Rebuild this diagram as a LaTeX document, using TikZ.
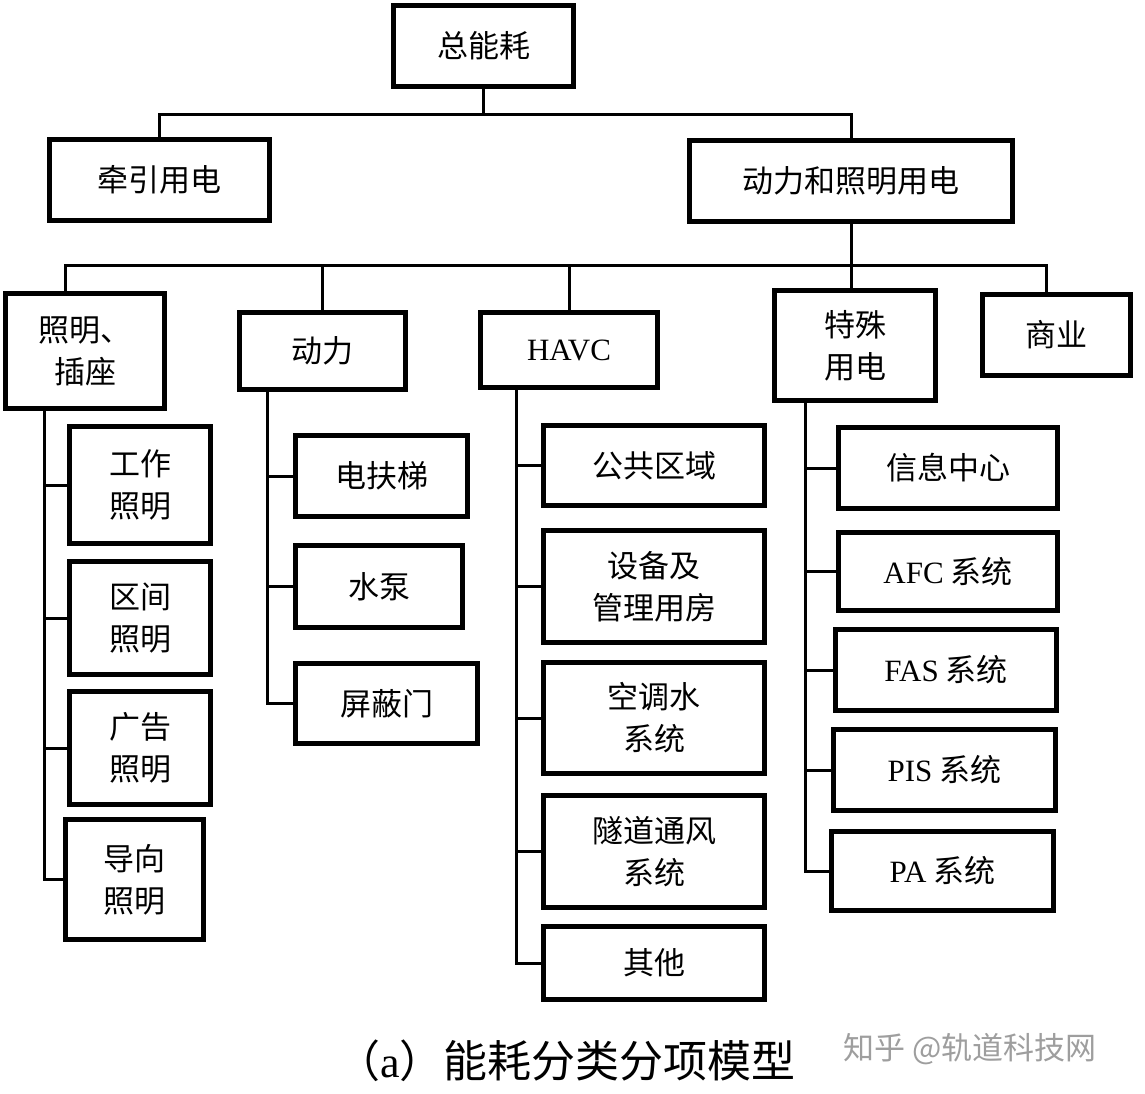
\documentclass[tikz,border=0pt]{standalone}
\usepackage{fontspec}
\setmainfont{Liberation Serif}
\newfontfamily\cjk{Noto Sans CJK SC}

\begin{document}
\begin{tikzpicture}[x=1pt,y=-1pt,
  box/.style={draw=black,line width=5pt,inner sep=0pt,align=center,font=\cjk\fontsize{31}{42}\selectfont},
  link/.style={draw=black,line width=3pt}]
\useasboundingbox (0,0) rectangle (1145,1093);

\node[box,minimum width=180,minimum height=81] (zong) at (483.5,46) {总能耗};
\node[box,minimum width=220,minimum height=81] (qianyin) at (159.5,180) {牵引用电};
\node[box,minimum width=323,minimum height=81] (dongzhao) at (851,181) {动力和照明用电};

\node[box,minimum width=159,minimum height=115] (zhaoming) at (85,351) {照明、\\插座};
\node[box,minimum width=166,minimum height=77] (dongli) at (322.5,351) {动力};
\node[box,minimum width=177,minimum height=75] (havc) at (569,350) {\rmfamily HAVC};
\node[box,minimum width=161,minimum height=110] (teshu) at (855,345.5) {特殊\\用电};
\node[box,minimum width=148,minimum height=81] (shangye) at (1056.5,335) {商业};

\node[box,minimum width=141,minimum height=117] (gongzuo) at (140,485) {工作\\照明};
\node[box,minimum width=141,minimum height=113] (qujian) at (140,618) {区间\\照明};
\node[box,minimum width=141,minimum height=113] (guanggao) at (140,748) {广告\\照明};
\node[box,minimum width=138,minimum height=120] (daoxiang) at (134.5,879.5) {导向\\照明};

\node[box,minimum width=172,minimum height=81] (futi) at (381.5,476) {电扶梯};
\node[box,minimum width=167,minimum height=82] (shuibeng) at (379,586.5) {水泵};
\node[box,minimum width=182,minimum height=80] (pingbi) at (386.5,703.5) {屏蔽门};

\node[box,minimum width=221,minimum height=80] (gonggong) at (654,465.5) {公共区域};
\node[box,minimum width=221,minimum height=112] (shebei) at (654,586.5) {设备及\\管理用房};
\node[box,minimum width=221,minimum height=111] (kongtiao) at (654,718) {空调水\\系统};
\node[box,minimum width=221,minimum height=112] (suidao) at (654,851.5) {隧道通风\\系统};
\node[box,minimum width=221,minimum height=73] (qita) at (654,963) {其他};

\node[box,minimum width=219,minimum height=81] (xinxi) at (948,468) {信息中心};
\node[box,minimum width=219,minimum height=78] (afc) at (948,571.5) {{\rmfamily AFC} 系统};
\node[box,minimum width=221,minimum height=81] (fas) at (946,670) {{\rmfamily FAS} 系统};
\node[box,minimum width=222,minimum height=81] (pis) at (944.5,770) {{\rmfamily PIS} 系统};
\node[box,minimum width=222,minimum height=79] (pa) at (942.5,871) {{\rmfamily PA} 系统};

\draw[link] (zong.south) -- ++(0,25) coordinate (bus1);
\draw[link] (qianyin.north) |- (bus1) -| (dongzhao.north);
\draw[link] (dongzhao.south) -- ++(0,41) coordinate (bus2);
\draw[link] ([xshift=-20pt]zhaoming.north) |- (bus2) -| ([xshift=-10pt]shangye.north);
\draw[link] (bus2) -- (bus2 |- teshu.north);
\foreach \n in {dongli,havc} \draw[link] (\n.north) -- (\n.north |- bus2);

\coordinate (zmS) at ([xshift=-41pt]zhaoming.south);
\draw[link] (zmS) |- (daoxiang.west);
\foreach \n in {gongzuo,qujian,guanggao} \draw[link] (zmS |- \n.west) -- (\n.west);

\coordinate (dlS) at ([xshift=-55.5pt]dongli.south);
\draw[link] (dlS) |- (pingbi.west);
\foreach \n in {futi,shuibeng} \draw[link] (dlS |- \n.west) -- (\n.west);

\coordinate (hvS) at ([xshift=-53pt]havc.south);
\draw[link] (hvS) |- (qita.west);
\foreach \n in {gonggong,shebei,kongtiao,suidao} \draw[link] (hvS |- \n.west) -- (\n.west);

\coordinate (tsS) at ([xshift=-50pt]teshu.south);
\draw[link] (tsS) |- (pa.west);
\foreach \n in {xinxi,afc,fas,pis} \draw[link] (tsS |- \n.west) -- (\n.west);

\node[font=\fontsize{44}{50}\selectfont] (caption) at (566,1061) {{\cjk （}a{\cjk ）能耗分类分项模型}};
\node[font=\cjk\fontsize{31}{36}\selectfont,text=black!38] (mark) at (970,1049) {知乎 @轨道科技网};
\end{tikzpicture}
\end{document}
